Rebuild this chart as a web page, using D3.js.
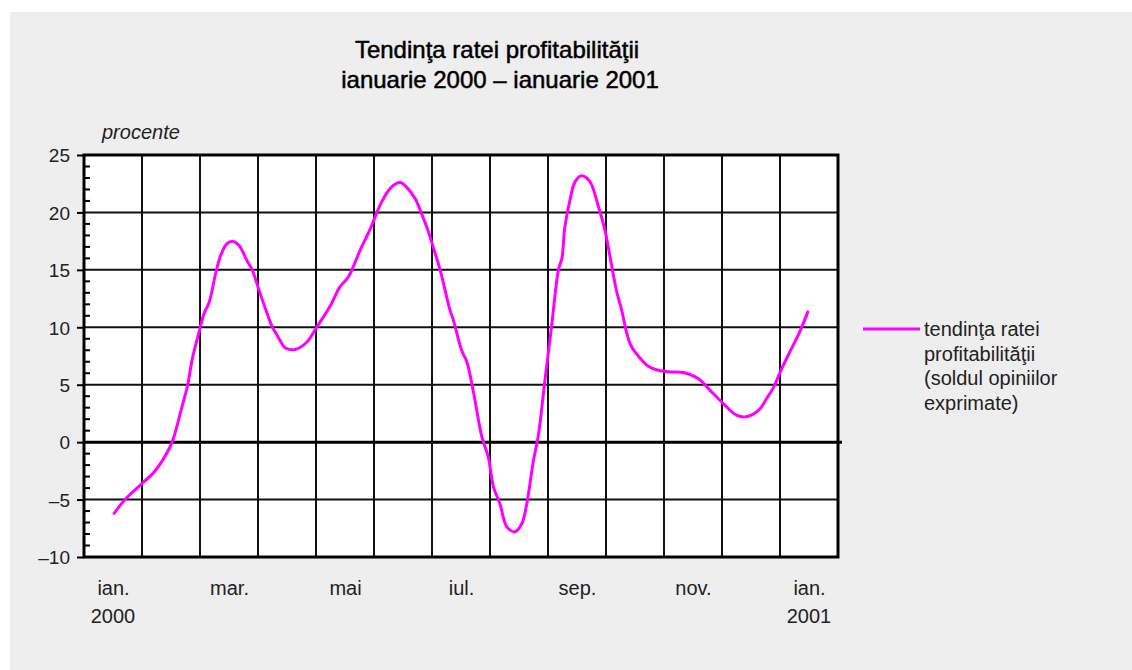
<!DOCTYPE html>
<html>
<head>
<meta charset="utf-8">
<script src="https://cdn.jsdelivr.net/npm/d3@7"></script>
<style>
  body { margin: 0; background: #fff; }
  text { font-family: "Liberation Sans", Arial, sans-serif; }
</style>
</head>
<body>
<script>
// month bands (13 months, ian. 2000 .. ian. 2001)
var monthLabels = ["ian.", "", "mar.", "", "mai", "", "iul.", "", "sep.", "", "nov.", "", "ian."];
var yearLabels = ["2000", "", "", "", "", "", "", "", "", "", "", "", "2001"];

// series: position in months (0 = start of ian. 2000) and value in percent
var timePos = [0.52, 0.69, 1.0, 1.21, 1.47, 1.55, 1.69, 1.78, 1.87, 1.98, 2.07, 2.16, 2.27, 2.36, 2.47,
    2.56, 2.67, 2.82, 2.9, 3.02, 3.13, 3.25, 3.32, 3.45, 3.52, 3.64, 3.84, 4.01, 4.24, 4.41,
    4.56, 4.76, 4.93, 5.13, 5.3, 5.45, 5.56, 5.71, 5.82, 5.94, 6.02, 6.14, 6.31, 6.37, 6.51,
    6.6, 6.71, 6.86, 6.97, 7.06, 7.17, 7.29, 7.43, 7.55, 7.63, 7.75, 7.83, 7.95, 8.06, 8.18,
    8.24, 8.29, 8.38, 8.47, 8.58, 8.72, 8.87, 8.98, 9.1, 9.18, 9.27, 9.36, 9.44, 9.59, 9.73,
    9.87, 10.07, 10.33, 10.59, 10.79, 11.02, 11.25, 11.4, 11.54, 11.66, 11.77, 11.88, 12.03,
    12.17, 12.34, 12.48];
var profitRate = [-6.2, -5.1, -3.6, -2.6, -0.55, 0.45, 3.1, 4.8, 7.3, 9.5, 11.2, 12.2, 14.7, 16.3, 17.3,
    17.5, 17.15, 15.7, 15.0, 13.2, 11.6, 10.0, 9.4, 8.3, 8.1, 8.07, 8.7, 10.0, 11.8, 13.5,
    14.4, 16.7, 18.5, 20.9, 22.2, 22.6, 22.2, 21.2, 19.9, 18.3, 17.0, 15.0, 11.5, 10.6, 8.0,
    7.0, 4.5, 0.46, -1.28, -3.9, -5.34, -7.37, -7.8, -7.08, -5.49, -1.57, 0.46, 5.5, 10.0, 15.0,
    16.0, 18.7, 21.1, 22.7, 23.2, 22.7, 20.5, 18.5, 15.3, 13.2, 11.5, 9.46, 8.3, 7.3, 6.6,
    6.3, 6.12, 6.07, 5.55, 4.53, 3.37, 2.35, 2.2, 2.44, 2.93, 3.8, 4.68, 6.4,
    7.86, 9.6, 11.34];

var yTicks = [-10, -5, 0, 5, 10, 15, 20, 25];
var legendLines = ["tendinţa ratei", "profitabilităţii", "(soldul opiniilor", "exprimate)"];

var data = timePos.map(function(t, i) { return { t: t, v: profitRate[i] }; });

var W = 1132, H = 670;
var svg = d3.select("body").append("svg")
    .attr("width", W)
    .attr("height", H);

// gray panel
svg.append("rect")
    .attr("x", 10).attr("y", 12)
    .attr("width", W - 10).attr("height", H - 12)
    .attr("fill", "#eeeeee");

var x = d3.scaleLinear().domain([0, monthLabels.length]).range([84, 838]);
var y = d3.scaleLinear().domain([-10, 25]).range([557, 155]);

// plot background
svg.append("rect")
    .attr("x", x(0)).attr("y", y(25))
    .attr("width", x(13) - x(0)).attr("height", y(-10) - y(25))
    .attr("fill", "#fff");

// vertical grid (month boundaries)
svg.append("g")
    .selectAll("line")
    .data(d3.range(1, monthLabels.length))
    .enter()
    .append("line")
    .attr("x1", function(d) { return x(d); })
    .attr("x2", function(d) { return x(d); })
    .attr("y1", y(25)).attr("y2", y(-10))
    .attr("stroke", "#111")
    .attr("stroke-width", 2);

// horizontal grid
svg.append("g")
    .selectAll("line")
    .data(yTicks.filter(function(d) { return d !== 0 && d !== -10 && d !== 25; }))
    .enter()
    .append("line")
    .attr("x1", x(0)).attr("x2", x(13))
    .attr("y1", function(d) { return y(d); })
    .attr("y2", function(d) { return y(d); })
    .attr("stroke", "#111")
    .attr("stroke-width", 2);

// zero line
svg.append("line")
    .attr("x1", x(0)).attr("x2", x(13) + 4)
    .attr("y1", y(0)).attr("y2", y(0))
    .attr("stroke", "#000")
    .attr("stroke-width", 3);

// frame
svg.append("rect")
    .attr("x", x(0)).attr("y", y(25))
    .attr("width", x(13) - x(0)).attr("height", y(-10) - y(25))
    .attr("fill", "none")
    .attr("stroke", "#000")
    .attr("stroke-width", 3);

// minor ticks on the inside of the y axis
svg.append("g")
    .selectAll("line")
    .data(d3.range(-10, 26).filter(function(d) { return d % 5 !== 0; }))
    .enter()
    .append("line")
    .attr("x1", x(0)).attr("x2", x(0) + 6)
    .attr("y1", function(d) { return y(d); })
    .attr("y2", function(d) { return y(d); })
    .attr("stroke", "#000")
    .attr("stroke-width", 2);

// y axis with major ticks outside
var yAxis = svg.append("g")
    .attr("transform", "translate(" + x(0) + ",0)")
    .call(d3.axisLeft(y).tickValues(yTicks).tickSize(7).tickPadding(7)
        .tickFormat(function(d) { return d < 0 ? "\u2013" + Math.abs(d) : d; }));
yAxis.select(".domain").remove();
yAxis.selectAll("line").attr("stroke", "#000").attr("stroke-width", 2);
yAxis.selectAll("text")
    .attr("dy", "0.36em")
    .style("font-size", "19px")
    .style("font-family", "'Liberation Sans', Arial, sans-serif")
    .attr("fill", "#222");

// x axis labels at band centers
var xAxis = svg.append("g")
    .attr("transform", "translate(0," + y(-10) + ")")
    .call(d3.axisBottom(x)
        .tickValues(d3.range(0, monthLabels.length, 2).map(function(i) { return i + 0.5; }))
        .tickSize(0).tickPadding(24)
        .tickFormat(function(d) { return monthLabels[Math.floor(d)]; }));
xAxis.select(".domain").remove();
xAxis.selectAll("text")
    .style("font-size", "20px")
    .style("font-family", "'Liberation Sans', Arial, sans-serif")
    .attr("fill", "#222");

svg.append("g")
    .selectAll("text")
    .data(yearLabels)
    .enter()
    .append("text")
    .attr("x", function(d, i) { return x(i + 0.5); })
    .attr("y", 623)
    .attr("text-anchor", "middle")
    .style("font-size", "20px")
    .attr("fill", "#222")
    .text(function(d) { return d; });

// unit label
svg.append("text")
    .attr("x", 102).attr("y", 139)
    .style("font-size", "20px")
    .style("font-style", "italic")
    .attr("fill", "#222")
    .text("procente");

// title (regular weight with a hairline stroke to look medium)
svg.append("text")
    .attr("x", 497).attr("y", 58)
    .attr("text-anchor", "middle")
    .style("font-size", "24px")
    .attr("fill", "#000")
    .attr("stroke", "#000")
    .attr("stroke-width", 0.5)
    .text("Tendinţa ratei profitabilităţii");
svg.append("text")
    .attr("x", 500).attr("y", 88)
    .attr("text-anchor", "middle")
    .style("font-size", "24px")
    .attr("fill", "#000")
    .attr("stroke", "#000")
    .attr("stroke-width", 0.5)
    .text("ianuarie 2000 \u2013 ianuarie 2001");

// the series
var line = d3.line()
    .x(function(d) { return x(d.t); })
    .y(function(d) { return y(d.v); })
    .curve(d3.curveCatmullRom.alpha(0.5));

svg.append("path")
    .datum(data)
    .attr("d", line)
    .attr("fill", "none")
    .attr("stroke", "#ff00ff")
    .attr("stroke-width", 3)
    .attr("stroke-linejoin", "round")
    .attr("stroke-linecap", "round");

// legend
svg.append("line")
    .attr("x1", 863).attr("x2", 920)
    .attr("y1", 329).attr("y2", 329)
    .attr("stroke", "#ff00ff")
    .attr("stroke-width", 3);

svg.append("g")
    .selectAll("text")
    .data(legendLines)
    .enter()
    .append("text")
    .attr("x", 924)
    .attr("y", function(d, i) { return 336 + i * 24.5; })
    .style("font-size", "20px")
    .attr("fill", "#222")
    .text(function(d) { return d; });
</script>
</body>
</html>
